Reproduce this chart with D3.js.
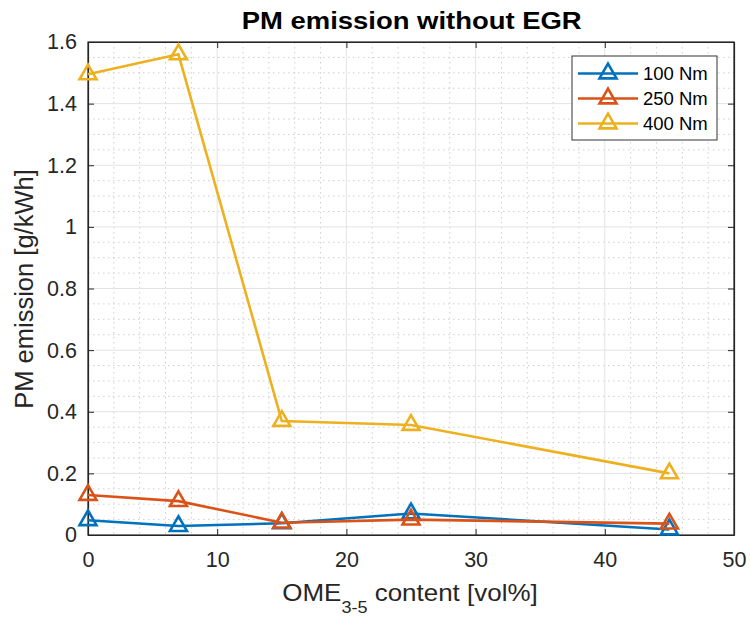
<!DOCTYPE html>
<html><head><meta charset="utf-8">
<script src="https://cdn.jsdelivr.net/npm/d3@7"></script>
<style>body{margin:0;background:#fff;} svg{display:block;font-family:"Liberation Sans",Arial,sans-serif;}</style>
</head><body>
<svg id="c" width="750" height="619"></svg>
<script>
const xValues = [0, 7, 15, 25, 45];
const seriesNames = ["100 Nm", "250 Nm", "400 Nm"];
const values100 = [0.048, 0.029, 0.038, 0.070, 0.018];
const values250 = [0.130, 0.110, 0.040, 0.050, 0.037];
const values400 = [1.495, 1.560, 0.370, 0.357, 0.200];
const colors = ["#0072BD", "#D95319", "#EDB120"];
const xTicks = [0, 10, 20, 30, 40, 50];
const yTicks = [0, 0.2, 0.4, 0.6, 0.8, 1, 1.2, 1.4, 1.6];

const series = [values100, values250, values400];
const svg = d3.select("#c");
const L = 88, R = 734, T = 42, B = 535;
const x = d3.scaleLinear().domain([0, 50]).range([L, R]);
const y = d3.scaleLinear().domain([0, 1.6]).range([B, T]);
const txt = "#262626";

// minor grid
const xMinor = d3.range(0, 50.001, 2).filter(v => v % 10 !== 0);
const yMinor = d3.range(0, 1.6001, 0.05).map(v => +v.toFixed(2)).filter(v => Math.abs(v / 0.2 - Math.round(v / 0.2)) > 1e-6);
const g = svg.append("g");
g.selectAll(".xm").data(xMinor).enter().append("line")
  .attr("x1", d => x(d)).attr("x2", d => x(d)).attr("y1", T).attr("y2", B)
  .attr("stroke", "#cfcfcf").attr("stroke-width", 1).attr("stroke-dasharray", "1.5,3.5");
g.selectAll(".ym").data(yMinor).enter().append("line")
  .attr("y1", d => y(d)).attr("y2", d => y(d)).attr("x1", L).attr("x2", R)
  .attr("stroke", "#cfcfcf").attr("stroke-width", 1).attr("stroke-dasharray", "1.5,3.5");
// major grid
g.selectAll(".xg").data(xTicks.slice(1, -1)).enter().append("line")
  .attr("x1", d => x(d)).attr("x2", d => x(d)).attr("y1", T).attr("y2", B)
  .attr("stroke", "#e3e3e3").attr("stroke-width", 1);
g.selectAll(".yg").data(yTicks.slice(1, -1)).enter().append("line")
  .attr("y1", d => y(d)).attr("y2", d => y(d)).attr("x1", L).attr("x2", R)
  .attr("stroke", "#e3e3e3").attr("stroke-width", 1);

// axes
const fmt = d => String(+d.toFixed(1));
const xAxis = svg.append("g").attr("transform", `translate(0,${B})`)
  .call(d3.axisBottom(x).tickValues(xTicks).tickSizeInner(-6).tickSizeOuter(0).tickPadding(17).tickFormat(d => d));
const xAxisTop = svg.append("g").attr("transform", `translate(0,${T})`)
  .call(d3.axisTop(x).tickValues(xTicks).tickSizeInner(-6).tickSizeOuter(0).tickFormat(""));
const yAxis = svg.append("g").attr("transform", `translate(${L},0)`)
  .call(d3.axisLeft(y).tickValues(yTicks).tickSizeInner(-6).tickSizeOuter(0).tickPadding(11).tickFormat(fmt));
const yAxisR = svg.append("g").attr("transform", `translate(${R},0)`)
  .call(d3.axisRight(y).tickValues(yTicks).tickSizeInner(-6).tickSizeOuter(0).tickFormat(""));
[xAxis, xAxisTop, yAxis, yAxisR].forEach(a => {
  a.attr("font-size", null).attr("font-family", null);
  a.selectAll("path").attr("stroke", txt).attr("stroke-width", 1.2);
  a.selectAll("line").attr("stroke", txt).attr("stroke-width", 1);
  a.selectAll("text").attr("fill", txt).attr("font-size", 21.5).attr("font-family", "Liberation Sans, Arial, sans-serif");
});
svg.append("rect").attr("x", L).attr("y", T).attr("width", R - L).attr("height", B - T)
  .attr("fill", "none").attr("stroke", txt).attr("stroke-width", 1.2);

// series
const tri = d3.symbol().type(d3.symbolTriangle).size(125);
series.forEach((vals, i) => {
  const pts = xValues.map((xv, j) => [xv, vals[j]]);
  svg.append("path").datum(pts)
    .attr("d", d3.line().x(d => x(d[0])).y(d => y(d[1])))
    .attr("fill", "none").attr("stroke", colors[i]).attr("stroke-width", 2.6);
  svg.selectAll(".m" + i).data(pts).enter().append("path")
    .attr("d", tri).attr("transform", d => `translate(${x(d[0])},${y(d[1])})`)
    .attr("fill", "none").attr("stroke", colors[i]).attr("stroke-width", 2.6);
});

// title
svg.append("text").attr("x", (L + R) / 2 + 0.7).attr("y", 28.5).attr("text-anchor", "middle")
  .attr("fill", "#000").attr("font-size", 23).attr("font-weight", "bold")
  .attr("textLength", 340).attr("lengthAdjust", "spacingAndGlyphs")
  .text("PM emission without EGR");
// y label
svg.append("text").attr("transform", `translate(33,${(T + B) / 2 + 0.5}) rotate(-90)`).attr("text-anchor", "middle")
  .attr("fill", txt).attr("font-size", 25.5).text("PM emission [g/kWh]");
// x label
const xlG = svg.append("g").attr("transform", `translate(410,0) scale(1.06,1)`);
const xl = xlG.append("text").attr("x", 0).attr("y", 601).attr("text-anchor", "middle")
  .attr("fill", txt).attr("font-size", 24.5);
xl.append("tspan").text("OME");
xl.append("tspan").attr("dy", 12.5).attr("font-size", 17).text("3-5");
xl.append("tspan").attr("dy", -12.5).text(" content [vol%]");

// legend
const lg = svg.append("g");
lg.append("rect").attr("x", 572).attr("y", 56).attr("width", 145).attr("height", 84)
  .attr("fill", "#fff").attr("stroke", "#333").attr("stroke-width", 1);
seriesNames.forEach((n, i) => {
  const yy = 73.5 + i * 25;
  lg.append("line").attr("x1", 578).attr("x2", 638).attr("y1", yy).attr("y2", yy)
    .attr("stroke", colors[i]).attr("stroke-width", 2.6);
  lg.append("path").attr("d", tri).attr("transform", `translate(608,${yy})`)
    .attr("fill", "none").attr("stroke", colors[i]).attr("stroke-width", 2.6);
  lg.append("text").attr("x", 643).attr("y", yy + 6.5).attr("fill", "#000")
    .attr("font-size", 18.5).text(n);
});
</script>
</body></html>
